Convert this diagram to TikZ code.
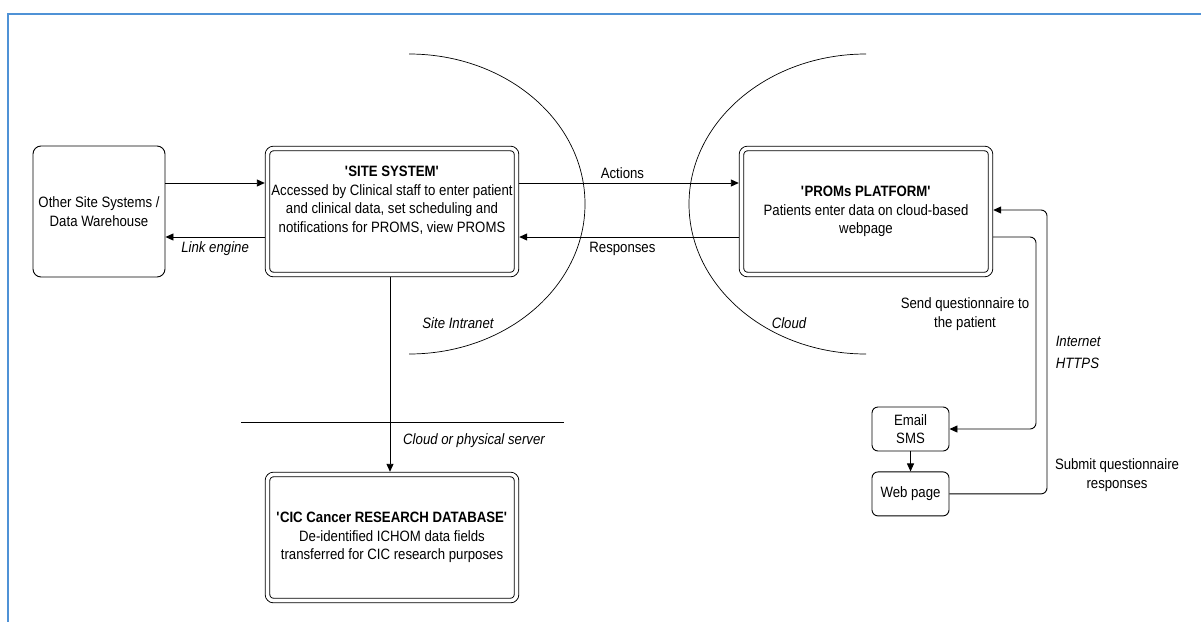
\documentclass[tikz,border=0pt]{standalone}
\usepackage{fontspec}
\setmainfont{Liberation Sans}[FakeStretch=0.88]
\usetikzlibrary{arrows.meta, positioning}
\newcommand{\squote}{\textquotesingle}
\definecolor{frameblue}{RGB}{79,146,214}

\begin{document}
\begin{tikzpicture}[x=1pt, y=-1pt, line width=0.9pt,
  txt/.style={font=\fontsize{15}{18.5}\selectfont, align=center},
  lbl/.style={txt, font=\fontsize{15}{18.5}\selectfont\itshape},
  sys/.style={txt, draw, double, double distance=3.6pt, rounded corners=6pt, minimum width=249pt, minimum height=126pt, outer sep=2.7pt, inner xsep=1pt},
  ext/.style={txt, draw, rounded corners=8pt, minimum width=132pt, minimum height=131pt, inner xsep=1pt},
  dev/.style={txt, draw, rounded corners=6pt, minimum width=77pt, minimum height=44pt, inner sep=1pt},
  arr/.style={-{Triangle[length=8pt, width=7pt]}},
  node distance=20pt]
  \useasboundingbox (0,0) rectangle (1201,621);
  \draw[frameblue, line width=2.2pt] (8,630) -- (8,14) -- (1210,14);

  % boxes
  \node[ext] (other) at (99,211.5) {Other Site Systems /\\Data Warehouse};
  \node[sys] (site) at (392,211.5) {\textbf{\squote SITE SYSTEM\squote}\\Accessed by Clinical staff to enter patient\\and clinical data, set scheduling and\\notifications for PROMS, view PROMS\\ \strut};
  \node[sys] (prom) at (866,211.5) {\textbf{\squote PROMs PLATFORM\squote}\\Patients enter data on cloud-based\\webpage};
  \node[sys] (cic) at (392,537.5) {\textbf{\squote CIC Cancer RESEARCH DATABASE\squote}\\De-identified ICHOM data fields\\transferred for CIC research purposes};
  \node[dev] (email) at (910.5,429) {Email\\SMS};
  \node[dev, below=of email] (web) {Web page};

  % zones
  \draw[line width=0.7pt] (409,54) arc[start angle=90, end angle=-90, x radius=176pt, y radius=150pt];
  \draw[line width=0.7pt] (866,54) arc[start angle=90, end angle=270, x radius=177pt, y radius=150pt];
  \draw[line width=0.7pt] (241,422) -- (564,422);

  % links
  \draw[arr] ([yshift=28.5pt]other.east) -- ([yshift=28.5pt]site.west);
  \draw[arr] ([yshift=-25.5pt]site.west) -- ([yshift=-25.5pt]other.east)
    node[lbl, midway, below=1pt] {Link engine};
  \draw[arr] ([yshift=28.5pt]site.east) -- ([yshift=28.5pt]prom.west)
    node[txt, pos=0.47, above=1pt] {Actions};
  \draw[arr] ([yshift=-25.5pt]prom.west) -- ([yshift=-25.5pt]site.east)
    node[txt, pos=0.53, below=1pt] {Responses};
  \draw[arr] (site.south -| 390,0) -- (cic.north -| 390,0);
  \draw[arr] (email) -- (web);

  \coordinate (sendx) at (1036,0);
  \coordinate (subx) at (1047,0);
  \draw[arr, rounded corners=6pt] ([yshift=-25.5pt]prom.east) -| (sendx |- email.east) -- (email.east);
  \draw[arr, rounded corners=6pt] (web.east) -| ([yshift=1.5pt]subx |- prom.east) -- ([yshift=1.5pt]prom.east);

  % labels
  \node[lbl] (intranet) at (458,323) {Site Intranet};
  \node[lbl] (cloud) at (789,323) {Cloud};
  \node[lbl] (server) at (474,441) {Cloud or physical server};
  \node[txt] (send) at (965,314) {Send questionnaire to\\the patient};
  \node[lbl, align=left, anchor=west] (https) at (1052,352) {Internet\\[3.5pt]HTTPS};
  \node[txt] (submit) at (1117,475) {Submit questionnaire\\responses};
\end{tikzpicture}
\end{document}
